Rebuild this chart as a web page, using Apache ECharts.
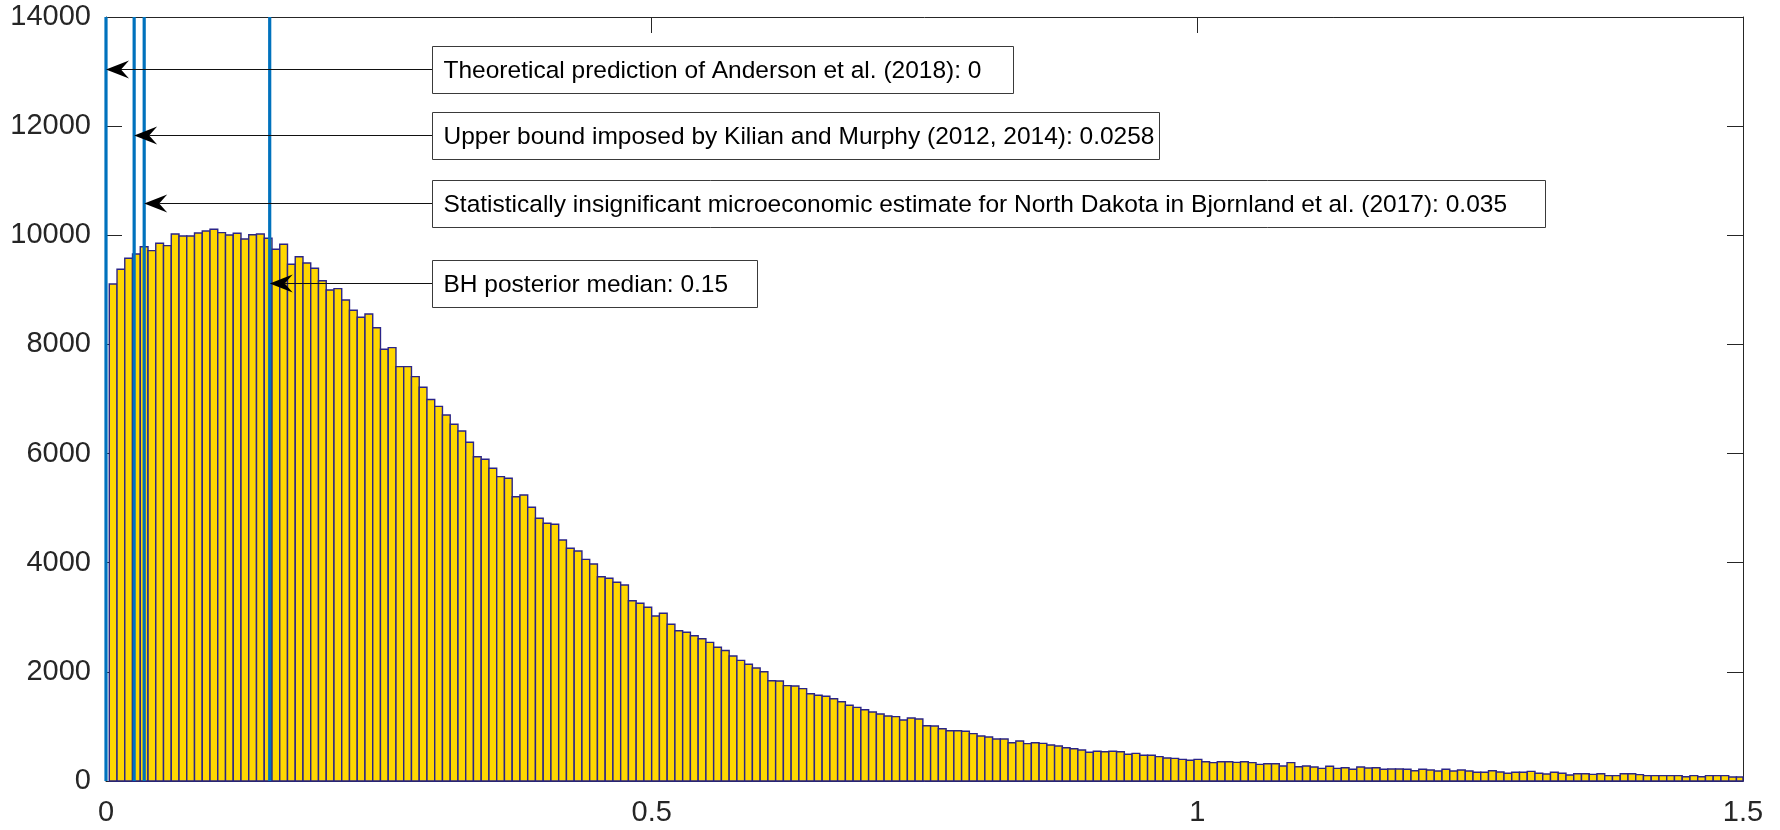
<!DOCTYPE html>
<html>
<head>
<meta charset="utf-8">
<script src="https://cdn.jsdelivr.net/npm/echarts@6/dist/echarts.min.js"></script>
<style>
  html, body { margin: 0; padding: 0; background: #fff; }
  #chart { width: 1780px; height: 830px; }
</style>
</head>
<body>
<div id="chart"></div>
<script>
// histogram: first bin edge, bin width, counts per bin
const binStart = 0.003
const binWidth = 0.0071
const counts = [
  9108, 9377, 9578, 9657, 9791, 9718, 9853, 9810, 10024, 9987,
  9987, 10042, 10079, 10110, 10048, 10005, 10036, 9932, 10011, 10024,
  9945, 9743, 9835, 9469, 9608, 9493, 9395, 9168, 8998, 9022,
  8814, 8625, 8497, 8558, 8307, 7911, 7941, 7593, 7593, 7410,
  7215, 6990, 6865, 6707, 6536, 6414, 6207, 5943, 5895, 5730,
  5577, 5547, 5210, 5241, 5016, 4814, 4722, 4704, 4416, 4264,
  4215, 4062, 3977, 3744, 3715, 3641, 3592, 3304, 3256, 3183,
  3024, 3073, 2872, 2754, 2725, 2663, 2608, 2540, 2450, 2390,
  2290, 2210, 2140, 2070, 2003, 1838, 1833, 1747, 1741, 1692,
  1600, 1570, 1552, 1508, 1453, 1387, 1350, 1307, 1264, 1228,
  1191, 1179, 1118, 1155, 1136, 1013, 1008, 958, 922, 922,
  911, 868, 825, 806, 770, 770, 702, 733, 684, 702,
  690, 660, 640, 610, 590, 568, 526, 544, 537, 544,
  537, 489, 507, 471, 471, 446, 421, 415, 397, 379,
  397, 354, 336, 354, 354, 342, 354, 336, 305, 317,
  317, 275, 336, 262, 275, 257, 232, 269, 232, 244,
  214, 257, 238, 244, 214, 220, 220, 214, 189, 214,
  202, 183, 214, 183, 202, 183, 159, 159, 189, 165,
  141, 159, 159, 177, 141, 128, 159, 141, 110, 134,
  134, 122, 134, 98, 98, 134, 134, 116, 98, 98,
  98, 98, 98, 79, 98, 79, 98, 98, 98, 73, 73
]

// reference estimates (vertical lines) and their notes
const refValues = [0, 0.0258, 0.035, 0.15]
const refLabels = [
  'Theoretical prediction of Anderson et al. (2018): 0',
  'Upper bound imposed by Kilian and Murphy (2012, 2014): 0.0258',
  'Statistically insignificant microeconomic estimate for North Dakota in Bjornland et al. (2017): 0.035',
  'BH posterior median: 0.15'
]
const refArrowY = [13050, 11840, 10600, 9120]
const noteX = 0.2985

const yTicks = [0, 2000, 4000, 6000, 8000, 10000, 12000, 14000]
const xTicks = [0, 0.5, 1, 1.5]

// layout of the note boxes (px)
const boxW = [581, 727, 1113, 325]
const boxH = 47

const FONT = '"Liberation Sans", Arial, Helvetica, sans-serif'
const AXIS = '#262626'

const chart = echarts.init(document.getElementById('chart'))

const histData = counts.map((c, i) => [binStart + i * binWidth, binStart + (i + 1) * binWidth, c])

function renderBin(params, api) {
  const p0 = api.coord([api.value(0), api.value(2)])
  const p1 = api.coord([api.value(1), 0])
  const shape = echarts.graphic.clipRectByRect(
    { x: p0[0], y: p0[1], width: p1[0] - p0[0], height: p1[1] - p0[1] },
    { x: params.coordSys.x, y: params.coordSys.y, width: params.coordSys.width, height: params.coordSys.height }
  )
  if (!shape) return
  return {
    type: 'rect',
    shape,
    style: { fill: '#FFD700', stroke: '#2a2488', lineWidth: 1.4 }
  }
}

function renderRefLine(params, api) {
  const a = api.coord([api.value(0), yTicks[0]])
  const b = api.coord([api.value(0), yTicks[yTicks.length - 1]])
  return {
    type: 'line',
    shape: { x1: a[0], y1: a[1], x2: b[0], y2: b[1] },
    style: { stroke: '#0072BD', lineWidth: 3.2 }
  }
}

function renderNote(params, api) {
  const i = params.dataIndex
  const tip = api.coord([api.value(0), api.value(1)])
  const tail = api.coord([api.value(2), api.value(1)])
  const ty = Math.round(tip[1]) + 0.5
  const tx = tip[0]
  const L = 23, W = 9, N = 15
  const bx = Math.round(tail[0]) + 0.5
  const by = Math.round(ty - boxH / 2) + 0.5
  return {
    type: 'group',
    children: [
      {
        type: 'line',
        shape: { x1: bx, y1: ty, x2: tx + N, y2: ty },
        style: { stroke: '#111', lineWidth: 1 }
      },
      {
        type: 'polygon',
        shape: { points: [[tx, ty], [tx + L, ty - W], [tx + N, ty], [tx + L, ty + W]] },
        style: { fill: '#000' }
      },
      {
        type: 'rect',
        shape: { x: bx, y: by, width: boxW[i], height: boxH },
        style: { fill: '#fff', stroke: '#3a3a3a', lineWidth: 1 }
      },
      {
        type: 'text',
        x: bx + 11,
        y: by + boxH / 2 + 1,
        style: {
          text: refLabels[i],
          font: '24.5px ' + FONT,
          fill: '#000',
          align: 'left',
          verticalAlign: 'middle'
        }
      }
    ]
  }
}

const yAxisBase = {
  type: 'value',
  min: yTicks[0],
  max: yTicks[yTicks.length - 1],
  interval: yTicks[1] - yTicks[0],
  axisLine: { show: true, onZero: false, lineStyle: { color: AXIS, width: 1 } },
  axisTick: { show: true, inside: true, length: 16, lineStyle: { color: AXIS } },
  splitLine: { show: false }
}

const xAxisBase = {
  type: 'value',
  min: xTicks[0],
  max: xTicks[xTicks.length - 1],
  interval: xTicks[1] - xTicks[0],
  axisLine: { show: true, onZero: false, lineStyle: { color: AXIS, width: 1 } },
  axisTick: { show: true, inside: true, length: 16, lineStyle: { color: AXIS } },
  splitLine: { show: false }
}

chart.setOption({
  animation: false,
  backgroundColor: '#fff',
  grid: { left: 106, right: 37, top: 17, bottom: 49, containLabel: false },
  xAxis: [
    Object.assign({}, xAxisBase, {
      position: 'bottom',
      axisLabel: { color: AXIS, fontSize: 29, fontFamily: FONT, margin: 17, formatter: v => String(v) }
    }),
    Object.assign({}, xAxisBase, { position: 'top', axisLabel: { show: false } })
  ],
  yAxis: [
    Object.assign({}, yAxisBase, {
      position: 'left',
      axisLabel: { color: AXIS, fontSize: 29, fontFamily: FONT, margin: 15, formatter: v => String(v) }
    }),
    Object.assign({}, yAxisBase, { position: 'right', axisLabel: { show: false } })
  ],
  series: [
    {
      type: 'custom',
      name: 'histogram',
      renderItem: renderBin,
      encode: { x: [0, 1], y: 2 },
      data: histData,
      silent: true,
      z: 2
    },
    {
      type: 'custom',
      name: 'reference',
      renderItem: renderRefLine,
      encode: { x: 0 },
      data: refValues.map(v => [v]),
      silent: true,
      z: 3
    },
    {
      type: 'custom',
      name: 'notes',
      renderItem: renderNote,
      encode: { x: [0, 2], y: 1 },
      data: refValues.map((v, i) => [v, refArrowY[i], noteX]),
      clip: false,
      silent: true,
      z: 4
    }
  ]
})
</script>
</body>
</html>
